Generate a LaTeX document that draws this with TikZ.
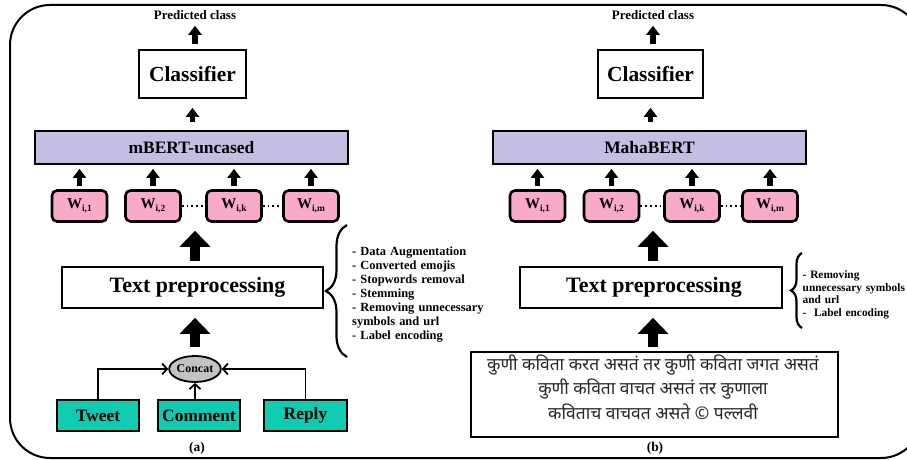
\documentclass[tikz,border=0pt]{standalone}
\usepackage{fontspec}
\setmainfont{Liberation Serif}
\newfontfamily\devfont[Script=Devanagari]{Noto Sans}
\usetikzlibrary{arrows.meta,shapes.geometric,decorations.pathreplacing}

\definecolor{bertfill}{HTML}{C5BEE2}
\definecolor{wfill}{HTML}{F8AAC8}
\definecolor{srcfill}{HTML}{0FCBB2}
\definecolor{catfill}{HTML}{C3C3C3}

\newcommand{\setfs}[1]{\fontsize{#1}{#1}\selectfont}
\newcommand{\wlab}[1]{{\setfs{15}W}\raisebox{-2.5bp}{\setfs{9.5}#1}}

\tikzset{
  plainbox/.style={draw, line width=1.7bp, inner sep=0pt},
  clsbox/.style={plainbox, fill=white, minimum width=107bp, minimum height=48bp,
    font=\bfseries\setfs{21.5}},
  bertbox/.style={plainbox, fill=bertfill, minimum width=313bp, minimum height=33bp,
    font=\bfseries\setfs{17.5}},
  wbox/.style={draw, line width=2.6bp, rounded corners=5bp, fill=wfill,
    minimum width=55bp, minimum height=31bp, inner sep=0pt, font=\bfseries},
  prepbox/.style={plainbox, minimum width=261bp, minimum height=41bp,
    font=\bfseries\setfs{22}},
  srcbox/.style={plainbox, line width=1.8bp, fill=srcfill, minimum width=82bp,
    minimum height=31bp, font=\bfseries\setfs{17.5}},
  catnode/.style={ellipse, draw, line width=1.8bp, fill=catfill, minimum width=44bp,
    minimum height=26bp, inner sep=0pt, font=\bfseries\setfs{12}},
  smallarrow/.style={line width=5.5bp, -{Triangle[length=9bp,width=13bp]}},
  bigarrow/.style={line width=10bp, -{Triangle[length=16bp,width=30bp]}},
  openarrow/.style={line width=1.8bp, -{Straight Barb[length=5bp,width=11bp]}},
  dotlink/.style={line width=1.8bp, dash pattern=on 1.8bp off 3bp},
  bracestyle/.style={decorate, line width=2.2bp},
  listtext/.style={anchor=north west, align=left, inner sep=0pt, font=\bfseries},
  caption/.style={inner sep=0pt, font=\bfseries\setfs{13.5}},
}

\begin{document}
\begin{tikzpicture}[x=1bp, y=-1bp]
\useasboundingbox (0,0) rectangle (907,460);
\fill[white] (0,0) rectangle (907,460);

% outer frame
\draw[line width=2bp, rounded corners=40bp] (10,5) rectangle (921,458);

% ---------------- panel (a) ----------------
\node[inner sep=0pt, font=\bfseries\setfs{13}] (predA) at (195,15) {Predicted class};
\node[clsbox] (clsA) at (192.5,74) {Classifier};
\node[bertbox] (bertA) at (191.5,147.5) {mBERT-uncased};
\node[wbox] (wA1) at (79.5,206) {\wlab{i,1}};
\node[wbox] (wA2) at (153,206) {\wlab{i,2}};
\node[wbox] (wA3) at (234,206) {\wlab{i,k}};
\node[wbox] (wA4) at (311,206) {\wlab{i,m}};
\node[prepbox] (tpA) at (192.5,287.5) {\hspace*{10bp}Text preprocessing};
\node[catnode] (catA) at (195,369) {Concat};
\node[srcbox] (tweetA) at (98,415.5) {Tweet};
\node[srcbox] (commentA) at (199,415.5) {Comment};
\node[srcbox, minimum width=83bp] (replyA) at (305.5,415.5) {Reply};
\node[caption] (capA) at (197,448) {(a)};

\draw[smallarrow, shorten <=5bp, shorten >=6bp] (clsA.north -| predA) -- (predA.south);
\draw[smallarrow, shorten <=8bp, shorten >=9bp] (bertA.north -| clsA) -- (clsA.south);
\foreach \w in {wA1,wA2,wA3,wA4}
  \draw[smallarrow, shorten <=3bp, shorten >=4bp] (\w.north) -- (\w.north |- bertA.south);
\draw[dotlink] (wA2.east) -- (wA3.west);
\draw[dotlink] (wA3.east) -- (wA4.west);
\draw[bigarrow, shorten <=5bp, shorten >=8bp] (tpA.north -| catA) -- (catA |- wA2.south);
\draw[bigarrow, shorten <=8bp, shorten >=9bp] (catA.north) -- (catA |- tpA.south);
\draw[openarrow] (tweetA.north) |- (catA.west);
\draw[openarrow] (replyA.north) |- (catA.east);
\draw[openarrow] (catA.south |- commentA.north) -- (catA.south);

\coordinate (brA1) at (347,357);
\coordinate (brA2) at (347,225);
\draw[bracestyle, decoration={brace, amplitude=21bp, aspect=0.5}] (brA1) -- (brA2);
\node[listtext, font=\bfseries\fontsize{12.5}{14}\selectfont, text width=140bp] (listA) at (352,246.5)
  {- Data Augmentation\\
   - Converted emojis\\
   - Stopwords removal\\
   - Stemming\\
   - Removing unnecessary\\
   symbols and url\\
   - Label encoding};

% ---------------- panel (b) ----------------
\node[inner sep=0pt, font=\bfseries\setfs{13}] (predB) at (653,15) {Predicted class};
\node[clsbox, minimum width=105bp] (clsB) at (650.5,74) {Classifier};
\node[bertbox] (bertB) at (649.5,147.5) {MahaBERT};
\node[wbox] (wB1) at (537.5,206) {\wlab{i,1}};
\node[wbox] (wB2) at (611.5,206) {\wlab{i,2}};
\node[wbox] (wB3) at (692,206) {\wlab{i,k}};
\node[wbox] (wB4) at (770,206) {\wlab{i,m}};
\node[prepbox, minimum width=262bp] (tpB) at (651,287.5) {\hspace*{6bp}Text preprocessing};
\node[plainbox, minimum width=367bp, minimum height=85bp] (poemB) at (654.5,394.5) {};
\node[inner sep=0pt, align=center, text=black!85,
      font=\devfont\fontsize{17.5}{24.5}\selectfont] (poemtxtB) at (653,387)
  {कुणी कविता करत असतं तर कुणी कविता जगत असतं\\
   कुणी कविता वाचत असतं तर कुणाला\\
   कविताच वाचवत असते © पल्लवी};
\node[caption] (capB) at (655,448) {(b)};

\draw[smallarrow, shorten <=5bp, shorten >=6bp] (clsB.north -| predB) -- (predB.south);
\draw[smallarrow, shorten <=8bp, shorten >=9bp] (bertB.north -| clsB) -- (clsB.south);
\foreach \w in {wB1,wB2,wB3,wB4}
  \draw[smallarrow, shorten <=3bp, shorten >=4bp] (\w.north) -- (\w.north |- bertB.south);
\draw[dotlink] (wB2.east) -- (wB3.west);
\draw[dotlink] (wB3.east) -- (wB4.west);
\draw[bigarrow, shorten <=5bp, shorten >=8bp] (tpB.north -| poemtxtB) -- (poemtxtB |- wB2.south);
\draw[bigarrow, shorten <=4bp, shorten >=9bp] (poemtxtB |- poemB.north) -- (poemtxtB |- tpB.south);

\coordinate (brB1) at (802,328);
\coordinate (brB2) at (802,253);
\draw[bracestyle, decoration={brace, amplitude=11bp, aspect=0.5}] (brB1) -- (brB2);
\node[listtext, font=\bfseries\fontsize{11.4}{12.7}\selectfont, text width=110bp] (listB) at (802.5,270.5)
  {- Removing\\
   unnecessary symbols\\
   and url\\
   -\ \ Label encoding};
\end{tikzpicture}
\end{document}
